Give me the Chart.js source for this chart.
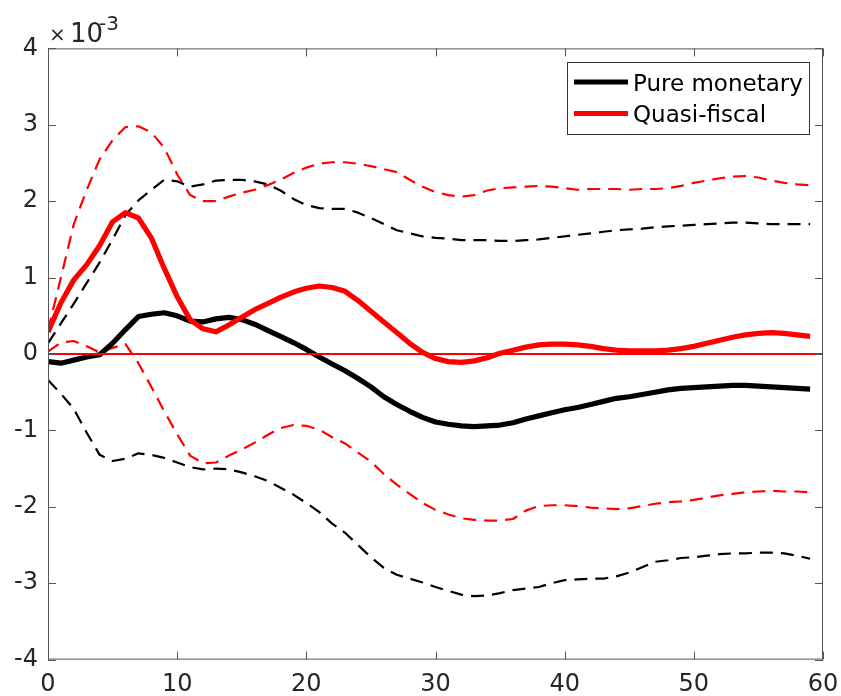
<!DOCTYPE html>
<html>
<head>
<meta charset="utf-8">
<script src="https://cdn.jsdelivr.net/npm/chart.js@4.4.1/dist/chart.umd.min.js"></script>
<style>
  html, body { margin: 0; padding: 0; background: #fff; }
  canvas { display: block; }
</style>
</head>
<body>
<canvas id="irf" width="841" height="696"></canvas>
<script>
// ── DATA (values in units of 1e-3) ────────────────────────────────────
const HORIZON = [
   0, 1, 2, 3, 4, 5, 6, 7, 8, 9,10,11,12,13,14,15,16,17,18,19,
  20,21,22,23,24,25,26,27,28,29,30,31,32,33,34,35,36,37,38,39,
  40,41,42,43,44,45,46,47,48,49,50,51,52,53,54,55,56,57,58,59
];

const PURE_MONETARY = [
  -0.10,-0.12,-0.08,-0.04,-0.01, 0.14, 0.32, 0.49, 0.52, 0.54,
   0.50, 0.43, 0.42, 0.46, 0.48, 0.45, 0.39, 0.31, 0.23, 0.15,
   0.06,-0.04,-0.13,-0.22,-0.32,-0.43,-0.56,-0.66,-0.75,-0.83,
  -0.89,-0.92,-0.94,-0.95,-0.94,-0.93,-0.90,-0.85,-0.81,-0.77,
  -0.73,-0.70,-0.66,-0.62,-0.58,-0.56,-0.53,-0.50,-0.47,-0.45,
  -0.44,-0.43,-0.42,-0.41,-0.41,-0.42,-0.43,-0.44,-0.45,-0.46
];
const PURE_MONETARY_HI = [
   0.14, 0.40, 0.66, 0.93, 1.20, 1.50, 1.82, 2.01, 2.15, 2.28,
   2.26, 2.19, 2.22, 2.27, 2.28, 2.28, 2.26, 2.22, 2.14, 2.03,
   1.95, 1.91, 1.90, 1.90, 1.85, 1.78, 1.70, 1.62, 1.58, 1.54,
   1.52, 1.51, 1.49, 1.49, 1.49, 1.48, 1.48, 1.49, 1.50, 1.52,
   1.54, 1.56, 1.58, 1.60, 1.62, 1.63, 1.64, 1.66, 1.67, 1.68,
   1.69, 1.70, 1.71, 1.72, 1.72, 1.71, 1.70, 1.70, 1.70, 1.70
];
const PURE_MONETARY_LO = [
  -0.34,-0.52,-0.72,-1.03,-1.32,-1.40,-1.37,-1.30,-1.32,-1.36,
  -1.42,-1.48,-1.51,-1.50,-1.51,-1.55,-1.60,-1.66,-1.75,-1.84,
  -1.95,-2.07,-2.22,-2.34,-2.50,-2.66,-2.80,-2.89,-2.94,-2.99,
  -3.05,-3.10,-3.15,-3.17,-3.16,-3.13,-3.09,-3.07,-3.05,-3.00,
  -2.96,-2.95,-2.94,-2.94,-2.91,-2.86,-2.79,-2.72,-2.70,-2.67,
  -2.66,-2.64,-2.62,-2.61,-2.61,-2.60,-2.60,-2.61,-2.64,-2.68
];

const QUASI_FISCAL = [
   0.29, 0.67, 0.97, 1.17, 1.42, 1.73, 1.85, 1.78, 1.52, 1.12,
   0.75, 0.45, 0.33, 0.29, 0.38, 0.48, 0.58, 0.66, 0.74, 0.81,
   0.86, 0.89, 0.87, 0.82, 0.70, 0.56, 0.42, 0.28, 0.14, 0.02,
  -0.06,-0.10,-0.11,-0.09,-0.05, 0.01, 0.05, 0.09, 0.12, 0.13,
   0.13, 0.12, 0.10, 0.07, 0.05, 0.04, 0.04, 0.04, 0.05, 0.07,
   0.10, 0.14, 0.18, 0.22, 0.25, 0.27, 0.28, 0.27, 0.25, 0.23
];
const QUASI_FISCAL_HI = [
   0.31, 1.00, 1.70, 2.15, 2.55, 2.80, 2.97, 2.98, 2.90, 2.70,
   2.35, 2.08, 2.00, 2.00, 2.06, 2.11, 2.15, 2.21, 2.28, 2.37,
   2.44, 2.49, 2.51, 2.51, 2.49, 2.46, 2.42, 2.38, 2.28, 2.19,
   2.12, 2.08, 2.06, 2.08, 2.14, 2.17, 2.18, 2.19, 2.20, 2.19,
   2.17, 2.15, 2.16, 2.16, 2.16, 2.15, 2.16, 2.16, 2.17, 2.20,
   2.24, 2.27, 2.30, 2.32, 2.33, 2.31, 2.27, 2.24, 2.22, 2.21
];
const QUASI_FISCAL_LO = [
   0.03, 0.15, 0.17, 0.10, 0.02, 0.08, 0.13,-0.12,-0.43,-0.75,
  -1.05,-1.33,-1.43,-1.42,-1.33,-1.25,-1.16,-1.06,-0.97,-0.93,
  -0.94,-0.99,-1.09,-1.17,-1.29,-1.41,-1.57,-1.71,-1.83,-1.95,
  -2.04,-2.10,-2.15,-2.17,-2.18,-2.18,-2.16,-2.05,-1.99,-1.98,
  -1.98,-1.99,-2.01,-2.02,-2.03,-2.02,-1.99,-1.96,-1.94,-1.93,
  -1.91,-1.88,-1.85,-1.83,-1.81,-1.80,-1.79,-1.80,-1.80,-1.81
];

const X_TICKS = [0, 10, 20, 30, 40, 50, 60];
const Y_TICKS = [-4, -3, -2, -1, 0, 1, 2, 3, 4];
const Y_EXPONENT = '-3';

// ── STYLE ──────────────────────────────────────────────────────────────
const FONT = 'DejaVu Sans';
const AXIS_COLOR = '#555';
const TEXT_COLOR = '#262626';
const RED = '#ff0000';
const BLACK = '#000000';
const DASH = [13, 8];

const toPoints = arr => arr.map((v, i) => ({ x: HORIZON[i], y: v }));

function lineSet(label, values, color, dashed, legendRank) {
  return {
    label,
    data: toPoints(values),
    borderColor: color,
    borderWidth: dashed ? 2.2 : 5.2,
    borderDash: dashed ? DASH : [],
    borderJoinStyle: 'round',
    pointRadius: 0,
    tension: 0,
    fill: false,
    legendRank,
  };
}

// ── PLUGIN: MATLAB-style box, inner ticks, zero line, legend, exponent ─
const matlabAxes = {
  id: 'matlabAxes',
  afterDatasetsDraw(chart) {
    const { ctx, chartArea: a, scales: { x, y } } = chart;
    ctx.save();

    // zero reference line
    const y0 = y.getPixelForValue(0);
    ctx.strokeStyle = RED;
    ctx.lineWidth = 2;
    ctx.beginPath();
    ctx.moveTo(a.left, y0);
    ctx.lineTo(a.right, y0);
    ctx.stroke();

    // box
    ctx.strokeStyle = AXIS_COLOR;
    ctx.lineWidth = 1;
    ctx.strokeRect(a.left + 0.5, a.top + 0.5, a.right - a.left - 1, a.bottom - a.top - 1);

    // inner ticks on all four sides
    const tl = 8;
    ctx.beginPath();
    X_TICKS.forEach(v => {
      const px = Math.round(x.getPixelForValue(v)) + 0.5;
      ctx.moveTo(px, a.bottom); ctx.lineTo(px, a.bottom - tl);
      ctx.moveTo(px, a.top);    ctx.lineTo(px, a.top + tl);
    });
    Y_TICKS.forEach(v => {
      const py = Math.round(y.getPixelForValue(v)) + 0.5;
      ctx.moveTo(a.left, py);  ctx.lineTo(a.left + tl, py);
      ctx.moveTo(a.right, py); ctx.lineTo(a.right - tl, py);
    });
    ctx.stroke();
    ctx.restore();
  },
  afterDraw(chart) {
    const { ctx, chartArea: a } = chart;
    ctx.save();

    // exponent label ×10^-3
    ctx.fillStyle = TEXT_COLOR;
    ctx.textBaseline = 'alphabetic';
    ctx.textAlign = 'left';
    ctx.font = `20px ${FONT}`;
    ctx.fillText('\u00d7', a.left + 1, 41);
    ctx.font = `26px ${FONT}`;
    ctx.fillText('10', a.left + 22, 42);
    ctx.font = `20px ${FONT}`;
    ctx.fillText(Y_EXPONENT, a.left + 51, 30);

    // legend (top right, inside axes)
    const items = chart.data.datasets
      .filter(d => d.legendRank)
      .sort((p, q) => p.legendRank - q.legendRank);
    const bx = 567, by = 62, bw = 242, bh = 72;
    ctx.fillStyle = '#fff';
    ctx.fillRect(bx, by, bw, bh);
    ctx.strokeStyle = '#333';
    ctx.lineWidth = 1;
    ctx.strokeRect(bx + 0.5, by + 0.5, bw, bh);
    ctx.font = `23px ${FONT}`;
    items.forEach((d, i) => {
      const ly = by + 20 + i * 31.5;
      ctx.strokeStyle = d.borderColor;
      ctx.lineWidth = 5;
      ctx.beginPath();
      ctx.moveTo(bx + 7, ly);
      ctx.lineTo(bx + 61, ly);
      ctx.stroke();
      ctx.fillStyle = BLACK;
      ctx.fillText(d.label, bx + 66, ly + 8.5);
    });
    ctx.restore();
  }
};

// ── CHART ──────────────────────────────────────────────────────────────
new Chart(document.getElementById('irf'), {
  type: 'line',
  data: {
    datasets: [
      lineSet('Quasi-fiscal',  QUASI_FISCAL,  RED,   false, 2),
      lineSet('Pure monetary', PURE_MONETARY, BLACK, false, 1),
      lineSet('Quasi-fiscal upper',  QUASI_FISCAL_HI,  RED,   true, 0),
      lineSet('Quasi-fiscal lower',  QUASI_FISCAL_LO,  RED,   true, 0),
      lineSet('Pure monetary upper', PURE_MONETARY_HI, BLACK, true, 0),
      lineSet('Pure monetary lower', PURE_MONETARY_LO, BLACK, true, 0),
    ]
  },
  options: {
    responsive: false,
    animation: false,
    devicePixelRatio: 1,
    layout: { padding: { top: 48.4, right: 18, left: 0, bottom: 0 } },
    plugins: { legend: { display: false }, tooltip: { enabled: false } },
    scales: {
      x: {
        type: 'linear',
        min: 0, max: 60,
        border: { display: false },
        grid: { display: false, drawTicks: false },
        afterBuildTicks: s => { s.ticks = X_TICKS.map(v => ({ value: v })); },
        afterFit: s => { s.height = 36.4; s.paddingLeft = 0; s.paddingRight = 0; },
        ticks: {
          padding: 11,
          color: TEXT_COLOR,
          font: { family: FONT, size: 24 },
          maxRotation: 0,
          callback: v => String(v)
        }
      },
      y: {
        min: -4, max: 4,
        border: { display: false },
        grid: { display: false, drawTicks: false },
        afterBuildTicks: s => { s.ticks = Y_TICKS.map(v => ({ value: v })); },
        afterFit: s => { s.width = 48; s.paddingTop = 0; s.paddingBottom = 0; },
        ticks: {
          padding: 10,
          color: TEXT_COLOR,
          font: { family: FONT, size: 24 },
          callback: v => String(v)
        }
      }
    }
  },
  plugins: [matlabAxes]
});
</script>
</body>
</html>
